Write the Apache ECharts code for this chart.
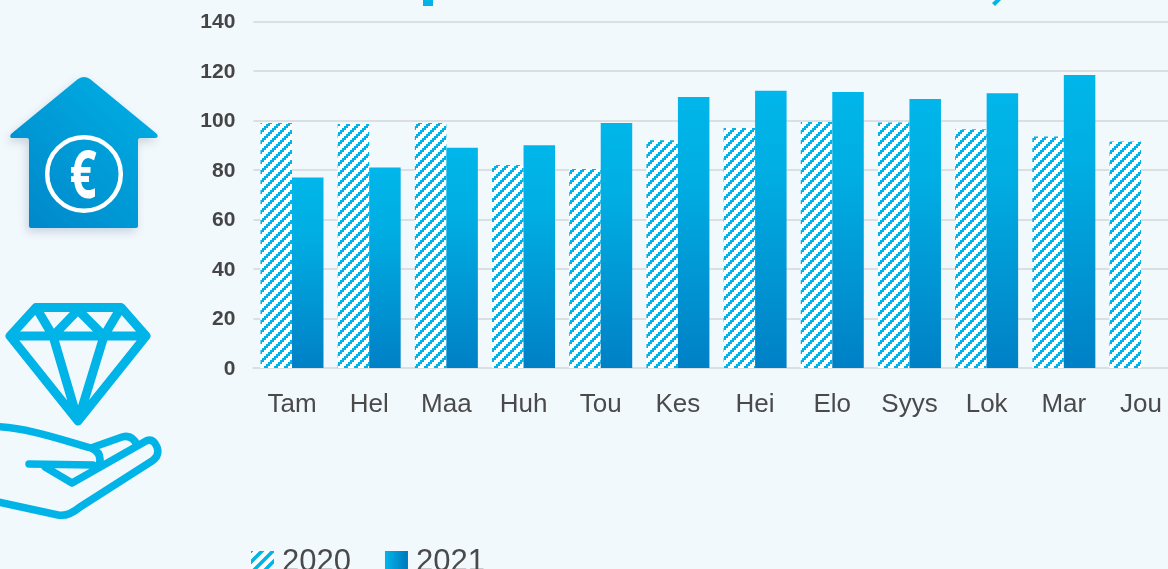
<!DOCTYPE html>
<html><head><meta charset="utf-8">
<style>html,body{margin:0;padding:0;background:#f2f9fd;overflow:hidden}#c{width:1168px;height:569px}</style>
<script src="https://cdn.jsdelivr.net/npm/echarts@6/dist/echarts.min.js"></script>
</head><body><div id="c"></div>
<script>
const categories = ['Tam','Hel','Maa','Huh','Tou','Kes','Hei','Elo','Syys','Lok','Mar','Jou'];
const yearNames = ['2020','2021'];
const values2020 = [99,98.6,99,82,80.4,92,97,99.4,99.2,96.5,93.5,91.5];
const values2021 = [77,81,89,90,99,109.5,112,111.5,108.7,111,118.4,null];

function blockHatch(){
  const c=document.createElement('canvas');c.width=c.height=10;
  const x=c.getContext('2d');
  x.fillStyle='#ffffff';x.fillRect(0,0,10,10);
  x.fillStyle='#00b4e8';
  for(let i=0;i<5;i++)for(let j=0;j<5;j++){ if((i+j)%5<2) x.fillRect(i*2,j*2,2,2); }
  return c;
}
function hatch(size, w){
  const c=document.createElement('canvas');c.width=c.height=size;
  const x=c.getContext('2d');
  x.fillStyle='#ffffff';x.fillRect(0,0,size,size);
  x.strokeStyle='#00b4e8';x.lineWidth=w;x.lineCap='square';
  for(let o=-size;o<=size;o+=size){x.beginPath();x.moveTo(o,size);x.lineTo(o+size,0);x.stroke();}
  return c;
}
const barHatch={image:blockHatch(),repeat:'repeat'};
const legendHatch={image:hatch(11,3.6),repeat:'repeat'};
const vGrad=new echarts.graphic.LinearGradient(0,0,0,1,[{offset:0,color:'#00b6ea'},{offset:0.3,color:'#00aee3'},{offset:1,color:'#0080c6'}]);
const hGrad=new echarts.graphic.LinearGradient(0,0,1,0,[{offset:0,color:'#00b6ea'},{offset:1,color:'#0076bd'}]);
const blue='#00b4e8';
const reg=(n,d)=>echarts.graphic.registerShape(n,echarts.graphic.extendPath(d,{}));
reg('titleTail','M1000 -4 L992 3 L995 6 L1001 0 Z');
reg('house','M78 79 Q84 75 90 79 L157 134 Q159 138 155 138 L140 138 Q138 138 138 140 L138 226 Q138 228 136 228 L31 228 Q29 228 29 226 L29 140 Q29 138 27 138 L12 138 Q9 138 11 134 Z');
reg('diamond','M36 307.5 L121 307.5 L146 336 L78 421 L10 336 Z M10 336 L146 336 M36 307.5 L53 336 L78 310 L104 336 L121 307.5 M53 336 L78 421 L104 336');
reg('hand','M-6 426.5 C30 428 62 440 91 448 L122 437 Q132 434 137 445 M91 448 Q103 453 99 465 M29 464 L93 465 M45 467 L72 483 L146 441 Q153 438 157 447 Q160 456 152 461 L80 507 Q68 517 58 515 L-6 501');

const chart=echarts.init(document.getElementById('c'),null,{renderer:'canvas'});
chart.setOption({
  backgroundColor:'#f2f9fd',
  animation:false,
  grid:{left:253.4,width:926.2,top:21.5,height:346.5,outerBoundsMode:'none',containLabel:false},
  legend:{left:246,top:542,itemWidth:23,itemHeight:23,itemGap:34,icon:'rect',
    textStyle:{fontFamily:'Liberation Sans',fontSize:31,color:'#4a4a4a',padding:[0,0,0,3]},
    data:[{name:yearNames[0],itemStyle:{color:legendHatch}},{name:yearNames[1],itemStyle:{color:hGrad}}]},
  xAxis:{type:'category',data:categories,
    axisLine:{lineStyle:{color:'#dcdfe2',width:2}},axisTick:{show:false},
    axisLabel:{interval:0,margin:24,fontFamily:'Liberation Sans',fontSize:26,color:'#4a4a4a'}},
  yAxis:{type:'value',min:0,max:140,interval:20,
    axisLine:{show:false},axisTick:{show:false},
    axisLabel:{margin:18,verticalAlign:'top',lineHeight:2,fontFamily:'Liberation Sans',fontWeight:'bold',fontSize:21,color:'#454545'},
    splitLine:{lineStyle:{color:'#dcdfe2',width:2}}},
  series:[
    {name:yearNames[0],type:'bar',data:values2020,barWidth:31.5,barGap:'0%',itemStyle:{color:barHatch}},
    {name:yearNames[1],type:'bar',data:values2021,barWidth:31.5,itemStyle:{color:vGrad}}
  ],
  graphic:[
    {type:'rect',shape:{x:423,y:-6,width:10,height:12},style:{fill:blue},silent:true},
    {type:'titleTail',style:{fill:blue},silent:true},
    {type:'house',style:{fill:new echarts.graphic.LinearGradient(1,0,0,1,[{offset:0,color:'#00b2e6'},{offset:1,color:'#0085c9'}]),shadowBlur:10,shadowColor:'rgba(0,40,80,0.18)',shadowOffsetX:-2,shadowOffsetY:4},silent:true},
    {type:'circle',shape:{cx:84,cy:174,r:36.8},style:{fill:'none',stroke:'#fff',lineWidth:4.5},silent:true},
    {type:'text',x:83,y:179,scaleX:0.72,style:{x:0,y:0,text:'€',align:'center',verticalAlign:'middle',fontFamily:'Open Sans',fontWeight:'bold',fontSize:66,fill:'#fff'},silent:true},
    {type:'diamond',style:{fill:'none',stroke:blue,lineWidth:9,lineJoin:'round',lineCap:'round'},silent:true},
    {type:'hand',style:{fill:'none',stroke:blue,lineWidth:7.5,lineJoin:'round',lineCap:'round'},silent:true}
  ]
});
</script></body></html>
